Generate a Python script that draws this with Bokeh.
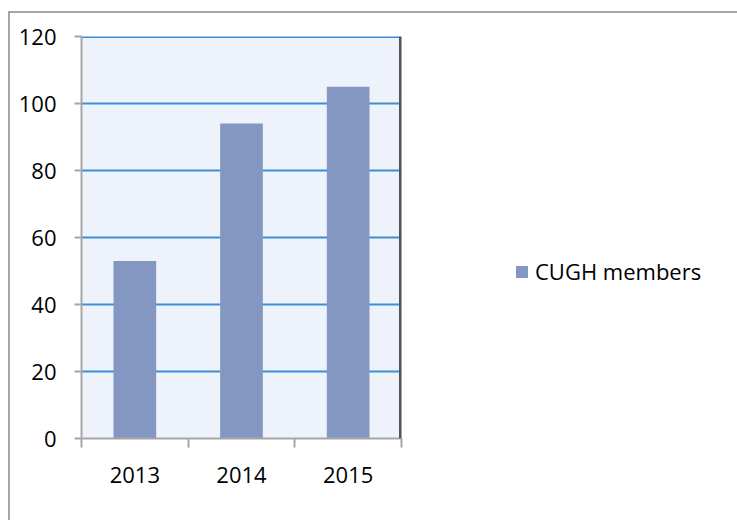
from bokeh.plotting import figure
from bokeh.models import Range1d, FixedTicker, Span, Legend, LegendItem
from bokeh.embed import file_html
from bokeh.resources import INLINE

years = ["2013", "2014", "2015"]
members = [53, 94, 105]
y_ticks = [0, 20, 40, 60, 80, 100, 120]
series_name = "CUGH members"

FONT = "Open Sans"
GRAY = "#A6A6A6"

xpos = [i + 0.5 for i in range(len(years))]

p = figure(frame_width=320, frame_height=402, output_backend="svg", toolbar_location=None,
           x_range=Range1d(0, len(years)), y_range=Range1d(0, y_ticks[-1]),
           min_border_left=71, min_border_top=23, min_border_bottom=82, min_border_right=21,
           margin=(11, 0, 0, 8))
p.styles = {"border-top": "2px solid #A6A6A6", "border-left": "2px solid #A6A6A6"}
p.background_fill_color = "#EEF2FA"
p.border_fill_color = "white"
p.outline_line_color = None

r = p.vbar(x=xpos, top=members, width=0.4, fill_color="#8497C2", line_color=None)

# axes
p.xaxis.ticker = FixedTicker(ticks=xpos, minor_ticks=list(range(len(years) + 1)))
p.xaxis.major_label_overrides = {x: y for x, y in zip(xpos, years)}
p.xaxis.major_tick_out = 0
p.xaxis.major_tick_in = 0
p.xaxis.minor_tick_out = 9
p.xaxis.minor_tick_in = 0
p.xaxis.minor_tick_line_color = GRAY
p.xaxis.minor_tick_line_width = 2
p.xaxis.major_label_standoff = 19

p.yaxis.ticker = FixedTicker(ticks=y_ticks)
p.yaxis.major_tick_out = 7
p.yaxis.major_tick_in = 0
p.yaxis.minor_tick_line_color = None
p.yaxis.major_tick_line_color = GRAY
p.yaxis.major_tick_line_width = 2
p.yaxis.major_label_standoff = 18

for ax in (p.xaxis, p.yaxis):
    ax.axis_line_color = GRAY
    ax.axis_line_width = 2
    ax.major_label_text_font = FONT
    ax.major_label_text_font_size = "22px"
    ax.major_label_text_color = "black"

p.xgrid.visible = False
p.ygrid.ticker = FixedTicker(ticks=y_ticks[1:])
p.ygrid.grid_line_color = "#3C8FD6"
p.ygrid.grid_line_width = 2

p.add_layout(Span(location=y_ticks[-1], dimension="width", line_color="#3C8FD6", line_width=3))
p.add_layout(Span(location=len(years), dimension="height", line_color="#555555", line_width=5))

legend = Legend(items=[LegendItem(label=series_name, renderers=[r])],
                location=(113, 152), padding=0, margin=0,
                border_line_color=None, background_fill_alpha=0,
                glyph_width=15, glyph_height=15, label_standoff=6, label_height=30,
                label_text_font=FONT, label_text_font_size="22px", label_text_color="black")
p.add_layout(legend, "right")

open("out.html", "w").write(file_html(p, INLINE))
